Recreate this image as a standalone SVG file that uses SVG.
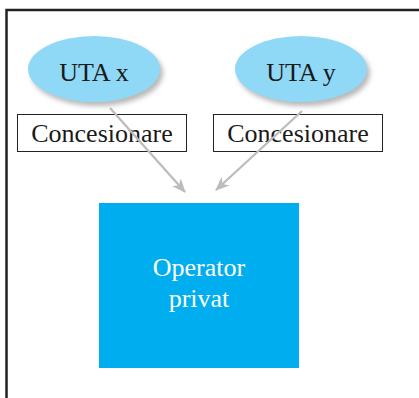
<svg xmlns="http://www.w3.org/2000/svg" width="419" height="398" viewBox="0 0 419 398">
  <defs>
    <filter id="shadow" x="-20%" y="-20%" width="150%" height="160%">
      <feDropShadow dx="3" dy="4" stdDeviation="2.5" flood-color="#9a9a9a" flood-opacity="0.7"/>
    </filter>
    <marker id="arrow" viewBox="0 0 14 12" refX="13" refY="6" markerWidth="14" markerHeight="12" markerUnits="userSpaceOnUse" orient="auto">
      <path d="M0,0 L14,6 L0,12 L4,6 Z" fill="#bcbcbc"/>
    </marker>
  </defs>
  <style>
    text { font-family: "Liberation Serif", "Times New Roman", serif; font-size: 26px; text-anchor: middle; }
    .uta { fill: #8fd8f6; filter: url(#shadow); }
    .label { fill: none; stroke: #222222; stroke-width: 1; }
    .dark { fill: #1a1a1a; }
    .light { fill: #ffffff; }
    .conn { stroke: #bcbcbc; stroke-width: 2.2; fill: none; marker-end: url(#arrow); }
  </style>

  <rect width="419" height="398" fill="#ffffff"/>
  <!-- outer frame -->
  <path d="M6.5,398 V10 H419" fill="none" stroke="#222222" stroke-width="2.5"/>

  <g id="uta-x">
    <ellipse class="uta" cx="94" cy="69" rx="66" ry="33"/>
    <text class="dark" x="94" y="81">UTA x</text>
  </g>
  <g id="uta-y">
    <ellipse class="uta" cx="301" cy="69" rx="66" ry="33"/>
    <text class="dark" x="301" y="81">UTA y</text>
  </g>

  <g id="operator">
    <rect x="99" y="203" width="200" height="165" fill="#00aeef"/>
    <text class="light" x="199" y="276">Operator</text>
    <text class="light" x="199" y="307">privat</text>
  </g>

  <g id="concesionare-x">
    <rect class="label" x="17.5" y="114.5" width="169" height="37"/>
    <text class="dark" x="102" y="142">Concesionare</text>
  </g>
  <g id="concesionare-y">
    <rect class="label" x="213.5" y="114.5" width="169" height="37"/>
    <text class="dark" x="298" y="142">Concesionare</text>
  </g>

  <!-- arrows run over the label boxes -->
  <g id="connectors">
    <line class="conn" x1="110" y1="108" x2="185" y2="192"/>
    <line class="conn" x1="302" y1="111" x2="216" y2="190"/>
  </g>
</svg>
